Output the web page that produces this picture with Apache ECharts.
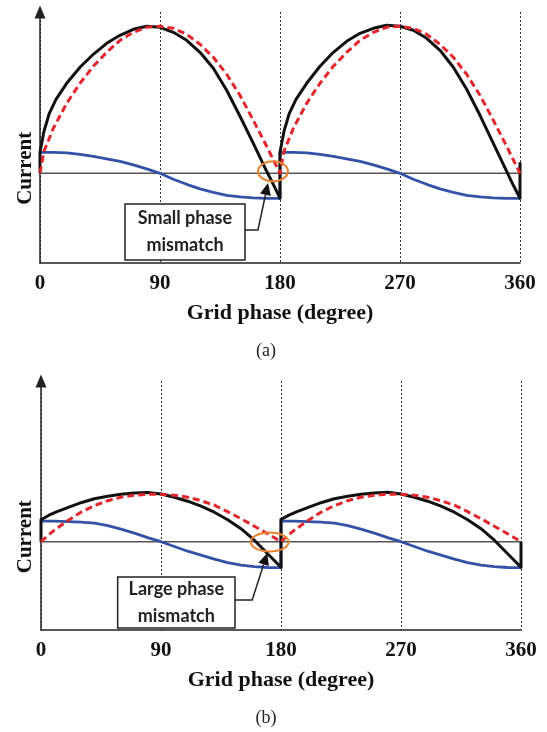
<!DOCTYPE html>
<html>
<head>
<meta charset="utf-8">
<script src="https://cdn.jsdelivr.net/npm/echarts@6/dist/echarts.min.js"></script>
<style>
  html, body { margin: 0; background: #fff; }
  #chart { width: 547px; height: 732px; }
</style>
</head>
<body>
<div id="chart"></div>
<script>
// x axis ticks (grid phase, degree)
const phaseTicks = [0, 90, 180, 270, 360];

// (a) small phase mismatch -- [phase, current a.u.]
const refA = [
  [0, 0], [3, 22], [10, 45], [20, 70], [30, 90], [40, 107], [50, 121], [60, 133], [70, 141], [80, 146], [90, 147],
  [100, 145], [110, 139], [120, 129], [130, 116], [140, 99], [150, 78], [160, 53], [170, 27], [180, 0],
  [183, 22], [190, 45], [200, 70], [210, 90], [220, 107], [230, 121], [240, 133], [250, 141], [260, 146], [270, 147],
  [280, 145], [290, 139], [300, 129], [310, 116], [320, 99], [330, 78], [340, 53], [350, 27], [360, 0]
];
const outA = [
  [0, 0], [0, 21], [3, 42], [7, 60], [12, 74], [20, 90], [30, 106], [40, 119], [50, 130], [60, 138], [70, 144], [80, 147], [90, 146],
  [100, 141], [110, 133], [120, 121], [130, 105], [140, 83], [150, 57], [160, 30], [170, 2], [175, -11], [180, -25],
  [180, 21], [183, 42], [187, 60], [192, 74], [200, 90], [210, 107], [220, 121], [230, 132], [240, 140], [250, 145], [260, 148], [270, 147],
  [280, 143], [290, 135], [300, 123], [310, 106], [320, 84], [330, 58], [340, 30], [350, 2], [355, -12], [360, -25], [360, 11]
];
const auxA = [
  [0, 21], [10, 21], [20, 20.5], [30, 19], [40, 17], [50, 14.5], [60, 12], [70, 8.5], [80, 4.5], [90, 0],
  [100, -6], [110, -11], [120, -15.5], [130, -19], [140, -22], [150, -23.5], [160, -24.5], [170, -25], [180, -25],
  [180, 21], [190, 21], [200, 20.5], [210, 19], [220, 17], [230, 14.5], [240, 12], [250, 8.5], [260, 4.5], [270, 0],
  [280, -6], [290, -11], [300, -15.5], [310, -19], [320, -22], [330, -23.5], [340, -24.5], [350, -25], [360, -25]
];

// (b) large phase mismatch -- [phase, current a.u.]
const refB = [
  [0, 0], [5, 6], [10, 11.5], [20, 21], [30, 29.5], [40, 36], [50, 41], [60, 44.5], [70, 46.5], [80, 47.5], [90, 47.5],
  [100, 46.5], [110, 44.5], [120, 41], [130, 36.5], [140, 30], [150, 23], [160, 15.5], [170, 8], [180, 0],
  [185, 6], [190, 11.5], [200, 21], [210, 29.5], [220, 36], [230, 41], [240, 44.5], [250, 46.5], [260, 47.5], [270, 47.5],
  [280, 46.5], [290, 44.5], [300, 41], [310, 36.5], [320, 30], [330, 23], [340, 15.5], [350, 8], [360, 0]
];
const outB = [
  [0, 0], [0, 22], [6, 26.5], [12, 30], [20, 34], [30, 39], [40, 43], [50, 45.5], [60, 47.5], [70, 48.8], [80, 49.2], [90, 47.7],
  [100, 44.5], [110, 40.5], [120, 35.5], [130, 29.5], [140, 22], [150, 13], [160, 1.5], [170, -12], [180, -25.6],
  [180, 22.4], [186, 26.5], [192, 30], [200, 34], [210, 39], [220, 43], [230, 45.5], [240, 47.5], [250, 48.8], [260, 49.4], [270, 47.7],
  [280, 44.5], [290, 40.5], [300, 35.5], [310, 29.5], [320, 22], [330, 13], [340, 1.5], [350, -12], [360, -25.6], [360, 0]
];
const auxB = [
  [0, 20.5], [10, 20.5], [20, 20], [30, 19.5], [40, 18.5], [50, 16], [60, 12.5], [70, 8.5], [80, 4], [90, 0],
  [100, -4.8], [110, -9.5], [120, -13.5], [130, -17.5], [140, -21], [150, -23.5], [160, -25], [170, -25.8], [180, -26],
  [180, 20.5], [190, 20.5], [200, 20], [210, 19.5], [220, 18.5], [230, 16], [240, 12.5], [250, 8.5], [260, 4], [270, 0],
  [280, -4.8], [290, -9.5], [300, -13.5], [310, -17.5], [320, -21], [330, -23.5], [340, -25], [350, -25.8], [360, -26]
];
const zeroLine = [[0, 0], [360, 0]];

const captions = ['(a)', '(b)'];
const notes = [['Small phase', 'mismatch'], ['Large phase', 'mismatch']];

const SERIF = "'Liberation Serif', 'Times New Roman', serif";
const SANS = "Lato, 'Open Sans', sans-serif";

// layout of both panels
const panels = [
  { top: 12, height: 251, left: 40, yMin: -89.7, yMax: 161.3 },
  { top: 381, height: 249, left: 41, yMin: -88.3, yMax: 160.7 }
];
// annotation anchors in data units (box corners, arrow elbow/tip, ellipse centre)
const noteLayout = [
  { box: [63.75, -30.7, 153.75, -86.7], from: [153.75, -56.7], elbow: [163.5, -56.7], tip: [171, -9.7], ring: [174.75, 2], rx: 15, ry: 10 },
  { box: [57.5, -35.3, 145.5, -86.3], from: [145.5, -58.3], elbow: [158.4, -58.3], tip: [169.7, -11.3], ring: [171.5, -0.3], rx: 19, ry: 9.5 }
];

const chart = echarts.init(document.getElementById('chart'));

function line(data, idx, color, width, dash, z) {
  return {
    type: 'line', data: data, xAxisIndex: idx, yAxisIndex: idx,
    showSymbol: false, smooth: false, animation: false, z: z, silent: true,
    lineStyle: { color: color, width: width, type: dash || 'solid', cap: 'butt', join: 'round' }
  };
}

const series = [];
[[refA, outA, auxA], [refB, outB, auxB]].forEach((set, i) => {
  series.push(line(zeroLine, i, '#555', 1.5, null, 2));
  series.push(line(set[2], i, '#3451a8', 2.8, null, 3));
  series.push(line(set[1], i, '#111', 3, null, 4));
  series.push(line(set[0], i, '#e3262b', 3, [7, 4], 5));
});

chart.setOption({
  animation: false,
  grid: panels.map(p => ({ left: p.left, width: 480, top: p.top, height: p.height })),
  xAxis: panels.map((p, i) => ({
    type: 'value', gridIndex: i, min: phaseTicks[0], max: phaseTicks[phaseTicks.length - 1], interval: 90,
    axisLine: { onZero: false, lineStyle: { color: '#222', width: 1.5 } },
    axisTick: { show: false },
    splitLine: { show: true, lineStyle: { color: '#333', width: 1, type: [2, 2] } },
    axisLabel: { margin: 10, fontFamily: SERIF, fontWeight: 'bold', fontSize: 21, color: '#111' },
    name: 'Grid phase (degree)', nameLocation: 'middle', nameGap: 39,
    nameTextStyle: { fontFamily: SERIF, fontWeight: 'bold', fontSize: 22, color: '#111' }
  })),
  yAxis: panels.map((p, i) => ({
    type: 'value', gridIndex: i, min: p.yMin, max: p.yMax,
    axisLine: { show: true, onZero: false, symbol: ['none', 'triangle'], symbolSize: [11, 13], lineStyle: { color: '#222', width: 1.5 } },
    axisTick: { show: false }, axisLabel: { show: false }, splitLine: { show: false }
  })),
  series: series
});

// annotations placed through the grid coordinate systems
const graphics = [];
noteLayout.forEach((n, i) => {
  const px = v => chart.convertToPixel({ gridIndex: i }, v);
  const a = px([n.box[0], n.box[1]]);
  const b = px([n.box[2], n.box[3]]);
  const from = px(n.from), elbow = px(n.elbow), tip = px(n.tip), ring = px(n.ring);
  const cx = (a[0] + b[0]) / 2, cy = (a[1] + b[1]) / 2;
  graphics.push({
    type: 'ellipse', shape: { cx: ring[0], cy: ring[1], rx: n.rx, ry: n.ry },
    style: { fill: 'none', stroke: '#e8822e', lineWidth: 2 }, z: 100
  });
  graphics.push({
    type: 'rect', shape: { x: a[0], y: a[1], width: b[0] - a[0], height: b[1] - a[1] },
    style: { fill: '#fff', stroke: '#222', lineWidth: 1.5 }, z: 100
  });
  graphics.push({
    type: 'text', x: cx, y: cy - 13.5, z: 101,
    style: { text: notes[i][0], font: 'bold 18px ' + SANS, fill: '#222', align: 'center', verticalAlign: 'middle' }
  });
  graphics.push({
    type: 'text', x: cx, y: cy + 13.5, z: 101,
    style: { text: notes[i][1], font: 'bold 18px ' + SANS, fill: '#222', align: 'center', verticalAlign: 'middle' }
  });
  // arrow shaft and head
  const dx = tip[0] - elbow[0], dy = tip[1] - elbow[1];
  const len = Math.sqrt(dx * dx + dy * dy);
  const ux = dx / len, uy = dy / len;
  const bx = tip[0] - ux * 12, by = tip[1] - uy * 12;
  graphics.push({
    type: 'polyline', shape: { points: [from, elbow, [bx, by]] },
    style: { stroke: '#222', lineWidth: 1.5, fill: 'none' }, z: 100
  });
  graphics.push({
    type: 'polygon', shape: { points: [tip, [bx - uy * 5.5, by + ux * 5.5], [bx + uy * 5.5, by - ux * 5.5]] },
    style: { fill: '#111' }, z: 100
  });
  // vertical axis title and caption
  const mid = px([0, 0]);
  graphics.push({
    type: 'text', x: 26, y: mid[1] - 5, rotation: Math.PI / 2, z: 100,
    style: { text: 'Current', font: 'bold 21px ' + SERIF, fill: '#111', align: 'center', verticalAlign: 'middle' }
  });
  graphics.push({
    type: 'text', x: 266, y: panels[i].top + panels[i].height + 88, z: 100,
    style: { text: captions[i], font: '18px ' + SERIF, fill: '#222', align: 'center', verticalAlign: 'middle' }
  });
});
chart.setOption({ graphic: graphics });
</script>
</body>
</html>
